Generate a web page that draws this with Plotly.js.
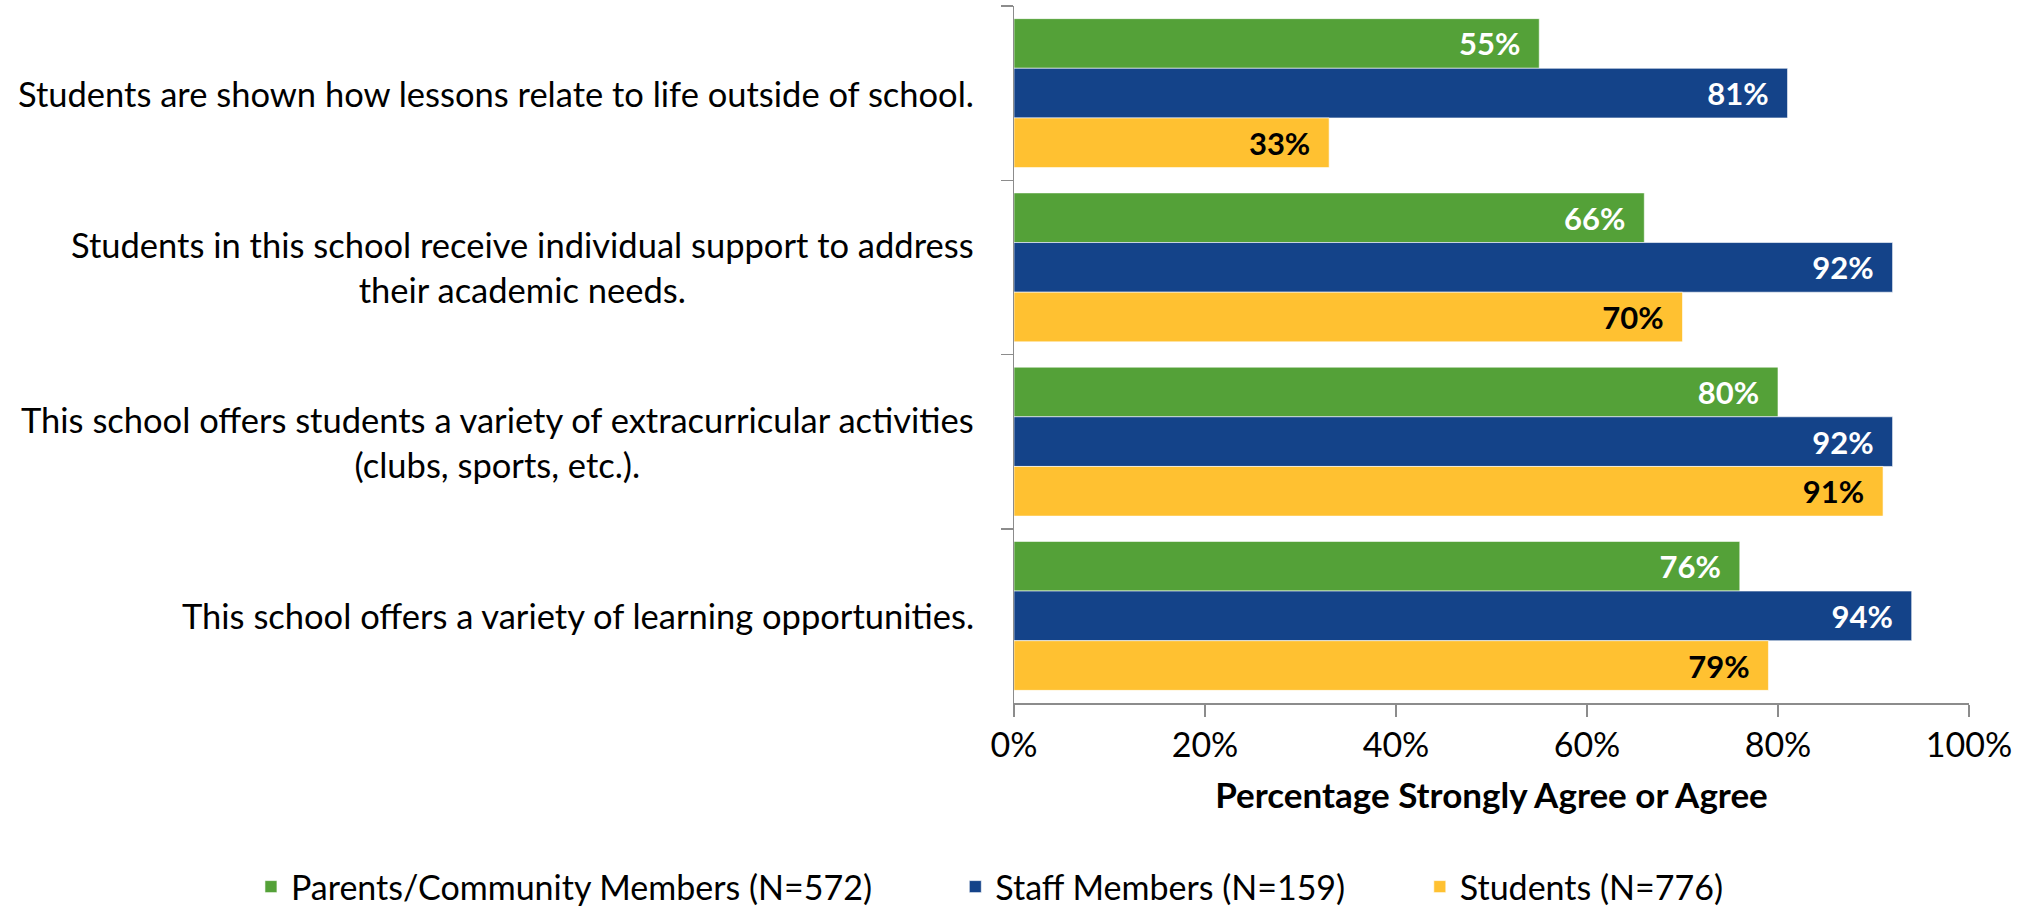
<!DOCTYPE html>
<html>
<head>
<meta charset="utf-8">
<script src="https://cdn.plot.ly/plotly-3.0.1.min.js"></script>
<style>
  html, body { margin: 0; padding: 0; background: #ffffff; }
  #chart { width: 2031px; height: 908px; }
</style>
</head>
<body>
<div id="chart"></div>
<script>
const categories = [
  "Students are shown how lessons relate to life outside of school.",
  "Students in this school receive individual support to address<br>their academic needs.",
  "This school offers students a variety of extracurricular activities<br>(clubs, sports, etc.).",
  "This school offers a variety of learning opportunities."
];
const seriesNames = [
  "Parents/Community Members (N=572)",
  "Staff Members (N=159)",
  "Students (N=776)"
];
const parentsValues = [55, 66, 80, 76];
const staffValues = [81, 92, 92, 94];
const studentsValues = [33, 70, 91, 79];
const xTickValues = [0, 20, 40, 60, 80, 100];
const xTickLabels = ["0%", "20%", "40%", "60%", "80%", "100%"];
const xAxisTitle = "Percentage Strongly Agree or Agree";

const colors = ["#54A138", "#144389", "#FFC131"];
const labelColors = ["#ffffff", "#ffffff", "#000000"];
const seriesValues = [parentsValues, staffValues, studentsValues];
const FONT = "Lato, 'Open Sans', sans-serif";
const legendPads = [9, 8, 0];

const traces = seriesValues.map((vals, i) => ({
  type: "bar",
  orientation: "h",
  name: seriesNames[i] + "\u00a0".repeat(legendPads[i]),
  y: categories,
  x: vals,
  marker: { color: colors[i], line: { color: "rgba(255,255,255,0.6)", width: 1 } },
  texttemplate: "<b>%{x:.0f}%</b>\u00a0\u00a0",
  textposition: "inside",
  insidetextanchor: "end",
  constraintext: "none",
  textfont: { family: FONT, size: 31, color: labelColors[i] },
  hoverinfo: "skip"
}));

const annotations = categories.map(c => ({
  xref: "paper", yref: "y",
  x: 0, y: c,
  xanchor: "right", yanchor: "middle",
  xshift: -38,
  align: "center",
  text: c,
  showarrow: false,
  font: { family: FONT, size: 34.5, color: "#000000" }
}));

const layout = {
  width: 2031, height: 908,
  margin: { l: 1014, r: 62, t: 6, b: 205, pad: 0, autoexpand: false },
  paper_bgcolor: "#ffffff",
  plot_bgcolor: "#ffffff",
  font: { family: FONT, size: 34, color: "#000000" },
  barmode: "group",
  bargap: 0.145,
  bargroupgap: 0,
  showlegend: true,
  legend: {
    orientation: "h",
    x: -0.799, xanchor: "left",
    y: -0.264, yanchor: "middle",
    font: { family: FONT, size: 34, color: "#000000" },
    traceorder: "normal"
  },
  xaxis: {
    range: [0, 100],
    tickvals: xTickValues,
    ticktext: xTickLabels,
    ticks: "outside", ticklen: 12, tickwidth: 1.5, tickcolor: "#8c8c8c",
    showline: true, linecolor: "#8c8c8c", linewidth: 1.5,
    showgrid: false, zeroline: false,
    tickfont: { family: FONT, size: 34, color: "#000000" },
    title: { text: "<b>" + xAxisTitle + "</b>", font: { family: FONT, size: 35, color: "#000000" }, standoff: 20 },
    fixedrange: true
  },
  yaxis: {
    type: "category",
    autorange: "reversed",
    showticklabels: false,
    ticks: "outside", ticklen: 12, tickwidth: 1.5, tickcolor: "#8c8c8c",
    tickson: "boundaries",
    showline: true, linecolor: "#8c8c8c", linewidth: 1.5,
    showgrid: false, zeroline: false,
    fixedrange: true
  },
  annotations: annotations
};

Plotly.newPlot("chart", traces, layout, { displayModeBar: false, staticPlot: true });
</script>
</body>
</html>
